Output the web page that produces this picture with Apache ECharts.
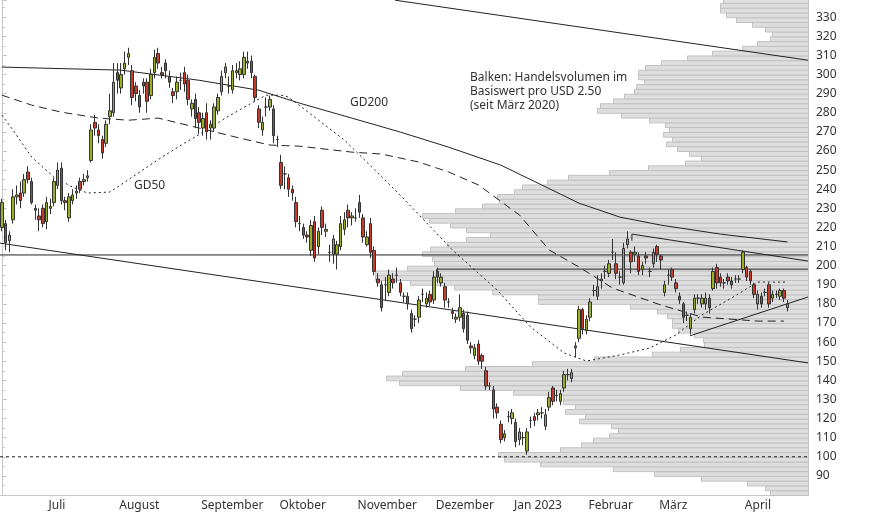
<!DOCTYPE html>
<html lang="de">
<head>
<meta charset="UTF-8">
<title>Kursverlauf</title>
<script src="https://cdn.jsdelivr.net/npm/echarts@6/dist/echarts.min.js"></script>
<style>
  html, body { margin: 0; padding: 0; background: #fff; }
  #chart { width: 874px; height: 515px; }
</style>
</head>
<body>
<div id="chart"></div>
<script>
// months shown on the x axis and trading days per month (last one incl. empty space)
const monthNames = ['Juni', 'Juli', 'August', 'September', 'Oktober', 'November', 'Dezember', 'Jan 2023', 'Februar', 'März', 'April'];
const monthDays = [12, 19, 22, 21, 21, 21, 21, 20, 19, 23, 18];

// daily candles: [open, close, low, high]
const ohlc = [
  [220,233,218,235],[222,212,208,224],[213,216,207,218],[224,236,222,240],[236,237,232,242],[238,234,230,244],
  [238,245,236,248],[249,245,243,252],[244,233,232,246],[230,229,224,232],[226,224,218,230],[230,222,220,232],
  // Juli
  [223,233,219,236],[230,231,227,235],[233,244,231,246],[242,250,240,254],[251,234,232,254],[234,233,229,236],
  [225,236,223,238],[234,237,232,240],[238,239,235,242],[244,240,238,246],[244,245,242,248],[246,247,244,250],
  [255,271,254,274],[275,272,268,279],[271,268,264,274],[266,259,256,268],[264,274,262,276],[278,281,274,290],
  [280,296,278,306],
  // August
  [301,297,290,306],[293,300,290,306],[303,306,300,312],[309,311,305,314],[302,288,284,305],[294,290,286,296],
  [289,283,280,292],[296,294,290,298],[296,286,280,298],[289,300,287,303],[301,309,298,313],[311,306,303,314],
  [301,300,298,304],[306,302,298,308],[299,296,293,302],[291,289,285,293],[291,296,287,299],[297,297,292,301],
  [301,295,291,304],[297,287,284,300],[282,285,278,287],[287,277,272,290],
  // September
  [280,275,269,283],[272,277,268,280],[280,270,266,285],[272,274,266,276],[272,283,270,285],[281,288,279,290],
  [291,299,289,302],[301,304,298,306],[294,294,290,299],[292,302,290,305],[301,302,298,306],[300,303,297,307],
  [300,309,298,312],[306,307,303,312],[307,301,298,310],[299,288,286,300],[282,275,272,284],[271,275,268,278],
  [283,283,278,288],[283,287,281,289],[282,268,264,284],
  // Oktober
  [266,266,262,268],[254,242,240,258],[248,248,240,252],[246,240,236,248],[240,238,234,242],[233,223,220,236],
  [222,222,218,226],[220,216,214,222],[216,215,212,218],[208,221,205,224],[223,204,202,226],[210,218,206,220],
  [229,220,216,231],[218,219,215,222],[207,207,202,211],[206,214,201,216],[206,211,198,213],[210,222,208,226],
  [219,224,216,228],[229,225,220,232],[225,226,221,228],
  // November
  [225,225,223,230],[233,228,225,237],[225,215,212,227],[211,215,210,218],[222,207,204,225],[208,197,195,210],
  [193,191,189,196],[190,178,176,192],[190,190,182,194],[186,195,184,198],[193,191,188,196],[195,195,191,199],
  [191,186,184,193],[184,184,181,186],[184,180,177,186],[175,167,165,177],[172,172,168,174],[173,182,170,184],
  [185,185,181,188],[180,183,178,186],[185,181,179,187],
  // Dezember
  [182,194,180,197],[197,194,191,199],[191,194,189,196],[189,182,178,191],[181,181,178,183],[176,175,172,178],
  [172,173,170,175],[173,178,171,185],[175,167,165,177],[174,161,159,176],[158,157,154,160],[153,157,151,159],
  [159,150,148,161],[153,150,146,154],[145,137,135,147],[137,137,135,139],[135,125,120,137],[126,123,120,128],
  [117,109,107,119],[110,112,108,114],[121,121,118,124],
  // Januar
  [120,123,117,125],[118,108,105,120],[109,113,106,115],[110,110,106,113],[103,113,101,115],[119,119,115,121],
  [121,119,116,123],[122,123,119,125],[123,123,120,126],[116,122,114,125],[126,131,124,134],[136,129,127,137],
  [132,132,129,135],[129,133,127,135],[136,143,134,145],[143,143,140,146],[141,144,139,146],[157,158,152,160],
  [162,177,160,179],[177,167,164,178],
  // Februar
  [166,172,164,174],[173,181,171,183],[187,187,184,190],[184,189,182,195],[192,193,188,196],[197,197,193,200],
  [196,201,194,203],[207,207,203,214],[201,196,193,207],[194,194,190,197],[191,209,190,212],[211,214,209,218],
  [207,202,196,208],[206,207,202,210],[205,197,195,207],[198,200,195,202],[205,204,201,207],[197,197,194,199],
  [201,207,199,209],
  // März
  [210,206,202,211],[205,203,198,206],[186,190,184,192],[195,195,190,198],[198,194,192,199],[191,188,186,193],
  [184,182,180,186],[180,173,170,181],[174,174,171,176],[167,173,164,175],[177,183,175,185],[183,183,180,185],
  [180,183,178,185],[180,183,177,186],[183,178,175,185],[188,197,187,199],[199,191,188,201],[194,191,189,196],
  [191,191,188,193],[194,192,190,196],[192,190,188,194],[193,193,191,195],[193,193,191,195],
  // April
  [198,207,196,208],[199,194,192,200],[197,192,190,198],[190,185,183,191],[180,185,177,187],[184,180,178,186],
  [186,186,184,188],[190,180,178,191],[183,185,181,187],[185,185,183,187],[184,187,182,188],[187,183,181,188],
  [178,180,176,182]
];

// moving averages: [day index, value]
const gd50 = [[0,278.8],[3,270.9],[8,256.8],[14,246.3],[19,241.1],[23,238],[29,238.5],[35,246.3],[39,251.6],
  [43,256.8],[49,264.1],[55,270.9],[60,277.2],[67,285],[71,289.2],[75,289.2],[77,288.2],[92,265.7],[107,236.9],
  [121,208.2],[133,187.3],[142,167.9],[151,154.3],[157,150.1],[166,153.3],[174,156.9],[181,163.7],[188,174.2],
  [196,183.1],[203,191.4],[211,191.4]];
const gd100 = [[0,289.2],[8,284],[16,280.3],[26,277.2],[34,276.1],[42,277.2],[53,272],[64,266.7],[72,263.1],
  [80,262.5],[94,259.4],[102,258.4],[112,254.2],[120,249],[128,242.2],[139,226.5],[147,208.2],[155,199.3],
  [164,188.3],[177,179.4],[188,173.1],[203,171],[210,171]];
const gd200 = [[0,303.9],[32,302.3],[53,297],[69,291.8],[80,285],[94,277.2],[107,269.9],[120,262],[134,252.6],
  [145,242.2],[155,232.7],[166,225.4],[177,221.2],[193,216.5],[211,212.4]];

// trend lines: [day index, value]
const trendTop = [[105.6,338.9],[216.5,307.5]];
const trendLong = [[-0.5,211.8],[216.5,149.1]];
const level206 = [[-0.5,205.6],[216.5,205.6]];
const level198 = [[116.8,196.3],[116.8,198.2],[216.5,198.2]];
const channelTop = [[169.2,213],[169.2,216.5],[216.5,202.4]];
const channelLow = [[184.8,163.3],[216.5,183.6]];
const level100 = [[-0.5,100],[216.5,100]];

// volume profile: price level step 2.5 from 80, volume in relative units
const volStart = 80;
const volStep = 2.5;
const volume = [38,43,61,107,154,195,268,304,310,248,227,215,199,190,197,229,223,243,233,245,245,295,348,409,
  422,406,343,276,214,156,128,104,105,114,130,136,136,141,151,178,270,270,316,354,398,433,433,401,374,376,386,
  378,361,342,318,342,358,379,386,353,326,309,311,294,286,261,240,199,160,123,107,119,131,142,136,145,139,143,
  159,187,211,208,195,184,174,172,164,170,170,163,147,121,96,66,51,38,36,43,56,72,82,88,88,85];

const days = [];
monthDays.forEach((n, m) => { for (let k = 0; k < n; k++) days.push(m + '-' + k); });
const volData = volume.map((v, j) => [v, volStart + j * volStep]);
const isMonthStart = (idx, val) => { const p = val.split('-'); return p[1] === '0' && p[0] !== '0'; };

const fontFamily = '"Noto Sans", sans-serif';
const chart = echarts.init(document.getElementById('chart'));

function lineSeries(data, type, z) {
  return {
    type: 'line', xAxisIndex: 1, data: data, symbol: 'none', silent: true, z: z || 3,
    lineStyle: { color: '#222', width: 1, type: type || 'solid' }
  };
}

chart.setOption({
  animation: false,
  grid: { left: 0, right: 66, top: 0, bottom: 20 },
  xAxis: [{
    type: 'category', data: days, boundaryGap: true,
    axisLine: { lineStyle: { color: '#c8c8c8' } },
    axisTick: { interval: isMonthStart, length: 20, lineStyle: { color: '#c8c8c8' } },
    axisLabel: {
      interval: isMonthStart, align: 'left', margin: 5, color: '#333', fontSize: 12, fontFamily: fontFamily,
      padding: [0, 0, 0, 2],
      formatter: v => monthNames[+v.split('-')[0]]
    },
    splitLine: { show: false }
  }, {
    type: 'value', min: -0.5, max: days.length - 0.5, show: false
  }, {
    type: 'value', min: 0, max: 808, inverse: true, show: false
  }],
  yAxis: {
    type: 'value', position: 'right', min: 80, max: 339, interval: 10, scale: true,
    axisLine: { show: true, lineStyle: { color: '#c8c8c8' } },
    axisTick: { show: true, length: 5, lineStyle: { color: '#c8c8c8' } },
    minorTick: { show: true, splitNumber: 2, length: 3, lineStyle: { color: '#c8c8c8' } },
    axisLabel: { showMinLabel: false, showMaxLabel: false, color: '#333', fontSize: 12, margin: 8, fontFamily: fontFamily },
    splitLine: { show: false }
  },
  series: [{
    type: 'custom', xAxisIndex: 2, data: volData, silent: true, z: 1,
    renderItem: (params, api) => {
      const v = api.value(0), lo = api.value(1);
      const a = api.coord([v, lo + volStep]);
      const b = api.coord([0, lo]);
      return {
        type: 'rect',
        shape: { x: a[0] + 0.5, y: a[1] + 0.5, width: b[0] - a[0], height: b[1] - a[1] },
        style: { fill: '#dedede', stroke: '#c2c2c2', lineWidth: 1 }
      };
    }
  },
  lineSeries(level100, [3, 3]),
  lineSeries(gd50, [2, 3]),
  lineSeries(gd100, [8, 5]),
  lineSeries(gd200),
  lineSeries(trendTop),
  lineSeries(trendLong),
  lineSeries(level206),
  lineSeries(level198),
  lineSeries(channelTop),
  lineSeries(channelLow),
  {
    type: 'candlestick', data: ohlc, barWidth: 3, z: 5,
    itemStyle: { color: '#99b020', color0: '#c83a2a', borderColor: '#333', borderColor0: '#333', borderWidth: 1 }
  }],
  graphic: [
    { type: 'text', left: 470, top: 71, style: { text: 'Balken: Handelsvolumen im\nBasiswert pro USD 2.50\n(seit März 2020)', fill: '#333', font: '12px ' + fontFamily, lineHeight: 14 } },
    { type: 'text', left: 350, top: 97, style: { text: 'GD200', fill: '#333', font: '12px ' + fontFamily } },
    { type: 'text', left: 134, top: 180, style: { text: 'GD50', fill: '#333', font: '12px ' + fontFamily } },
    { type: 'text', left: 524, top: 211, style: { text: 'GD100', fill: '#333', font: '12px ' + fontFamily } }
  ]
});

window.onresize = chart.resize;
</script>
</body>
</html>
